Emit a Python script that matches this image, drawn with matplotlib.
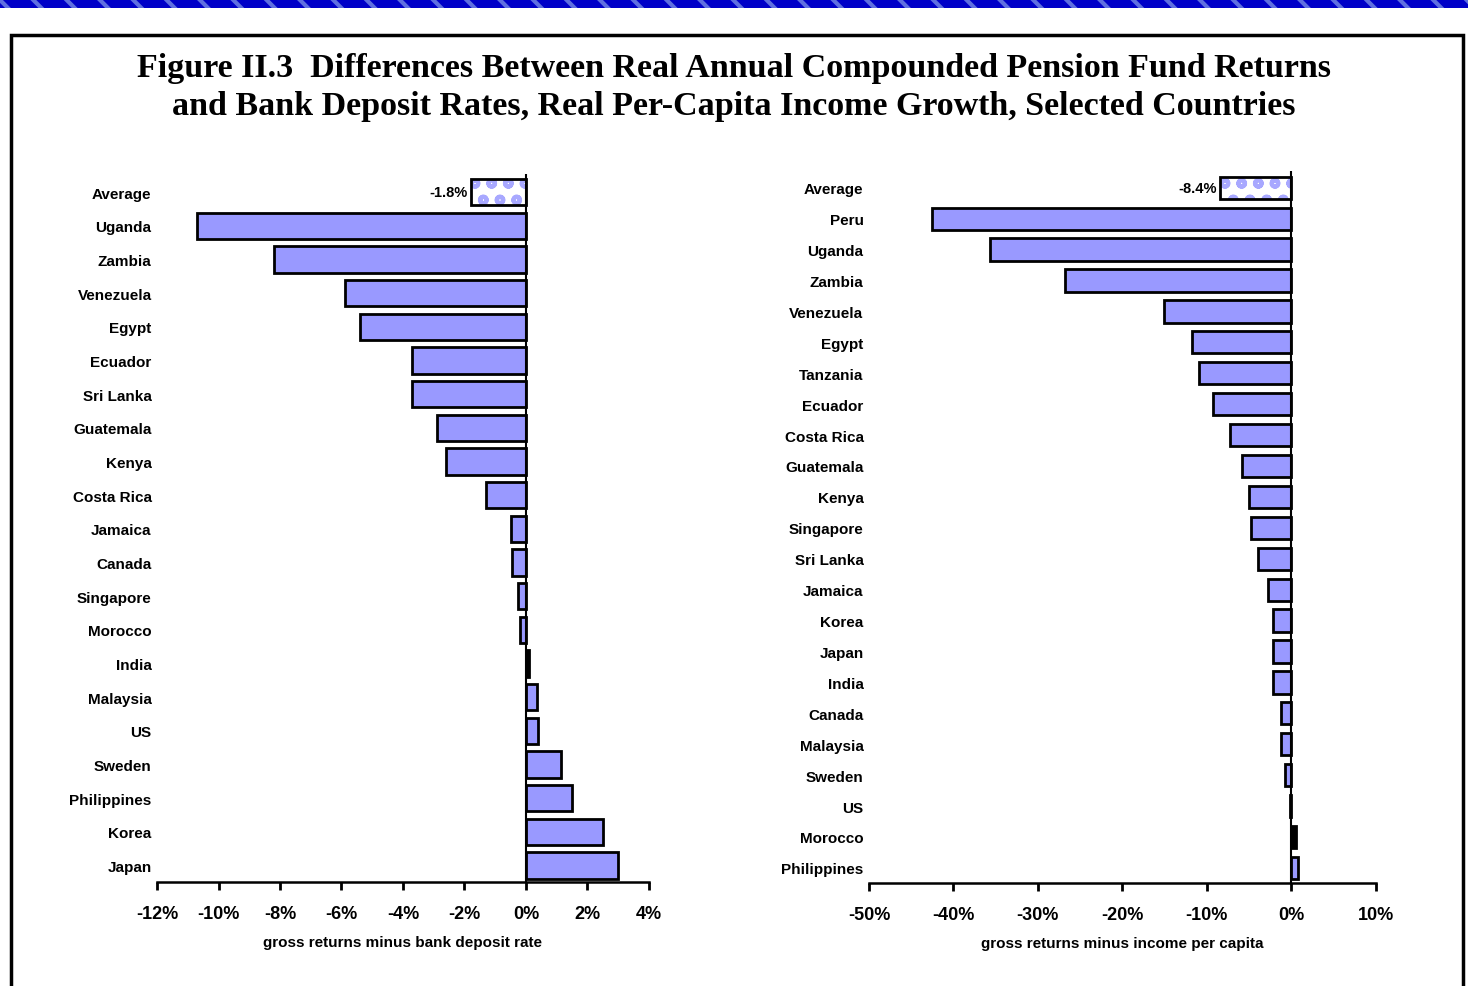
import matplotlib.pyplot as plt
from matplotlib.patches import Rectangle
from matplotlib.ticker import FuncFormatter

# left panel: gross returns minus bank deposit rate (%)
deposit_countries = ["Average", "Uganda", "Zambia", "Venezuela", "Egypt", "Ecuador",
                     "Sri Lanka", "Guatemala", "Kenya", "Costa Rica", "Jamaica", "Canada",
                     "Singapore", "Morocco", "India", "Malaysia", "US", "Sweden",
                     "Philippines", "Korea", "Japan"]
deposit_diff = [-1.8, -10.7, -8.2, -5.9, -5.4, -3.7, -3.7, -2.9, -2.6, -1.3, -0.5, -0.45,
                -0.25, -0.2, 0.1, 0.35, 0.4, 1.15, 1.5, 2.5, 3.0]

# right panel: gross returns minus income per capita (%)
income_countries = ["Average", "Peru", "Uganda", "Zambia", "Venezuela", "Egypt", "Tanzania",
                    "Ecuador", "Costa Rica", "Guatemala", "Kenya", "Singapore", "Sri Lanka",
                    "Jamaica", "Korea", "Japan", "India", "Canada", "Malaysia", "Sweden",
                    "US", "Morocco", "Philippines"]
income_diff = [-8.4, -42.6, -35.7, -26.8, -15.0, -11.7, -10.9, -9.2, -7.2, -5.8, -5.0, -4.8,
               -3.9, -2.7, -2.1, -2.1, -2.1, -1.2, -1.2, -0.7, -0.1, 0.6, 0.8]

BAR_COLOR = "#9999ff"
plt.rcParams["font.family"] = ["Liberation Sans", "DejaVu Sans"]
plt.rcParams["hatch.linewidth"] = 3.0

fig = plt.figure(figsize=(14.68, 9.87), dpi=100)

# blue banner strip along the top edge
fig.patches.append(Rectangle((0, 0.991), 1, 0.009, transform=fig.transFigure,
                             facecolor="#0000c8", edgecolor="#5f6fe0", hatch="\\",
                             linewidth=0))
# framed panel
fig.patches.append(Rectangle((0.0075, -0.05), 0.989, 1.014, transform=fig.transFigure,
                             facecolor="none", edgecolor="black", linewidth=2.5))

fig.text(0.5, 0.9115, "Figure II.3  Differences Between Real Annual Compounded Pension Fund Returns\n"
         "and Bank Deposit Rates, Real Per-Capita Income Growth, Selected Countries",
         ha="center", va="center", family="Liberation Serif", fontweight="bold",
         fontsize=24.5, linespacing=1.27)


def draw_panel(ax, countries, values, xlim, step, xlabel, bar_h, avg_label):
    y = list(range(len(countries)))
    span = xlim[1] - xlim[0]
    # Average row: patterned fill, then the outline on top
    ax.barh(y[:1], values[:1], height=bar_h, color="white", edgecolor="#a8a8ff",
            hatch="o", linewidth=0, zorder=2)
    ax.barh(y[:1], values[:1], height=bar_h, color="none", edgecolor="black",
            linewidth=2.0, zorder=3)
    # very thin bars render as solid outline
    colors = [BAR_COLOR if abs(v) > 0.011 * span else "black" for v in values[1:]]
    ax.barh(y[1:], values[1:], height=bar_h, color=colors, edgecolor="black",
            linewidth=2.0, zorder=3)
    ax.text(values[0] - 0.006 * span, 0, avg_label, ha="right",
            va="center", fontsize=10.5, fontweight="bold")
    ax.axvline(0, color="black", linewidth=1.5, zorder=4)
    ax.set_xlim(*xlim)
    ax.set_ylim(len(countries) - 0.5, -0.55)
    ax.set_yticks(y)
    ax.set_yticklabels(countries, fontsize=11, fontweight="bold")
    ax.tick_params(axis="y", length=0, pad=4)
    ticks = list(range(int(xlim[0]), int(xlim[1]) + 1, step))
    ax.set_xticks(ticks)
    ax.xaxis.set_major_formatter(FuncFormatter(lambda v, p: f"{v:.0f}%"))
    ax.tick_params(axis="x", direction="out", length=6, width=2, labelsize=13, pad=10)
    for lab in ax.get_xticklabels():
        lab.set_fontweight("bold")
    ax.set_xlabel(xlabel, fontsize=11, fontweight="bold", labelpad=10)
    for side in ("top", "right", "left"):
        ax.spines[side].set_visible(False)
    ax.spines["bottom"].set_linewidth(1.8)


ax1 = fig.add_axes([0.107, 0.105, 0.335, 0.718])
draw_panel(ax1, deposit_countries, deposit_diff, (-12, 4), 2,
           "gross returns minus bank deposit rate", 0.78, "-1.8%")

ax2 = fig.add_axes([0.592, 0.104, 0.345, 0.722])
draw_panel(ax2, income_countries, income_diff, (-50, 10), 10,
           "gross returns minus income per capita", 0.72, "-8.4%")

fig.savefig("out.png", dpi=100)
